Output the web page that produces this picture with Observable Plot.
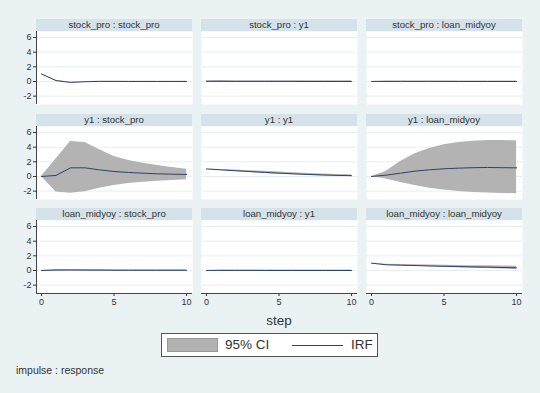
<!DOCTYPE html>
<html>
<head>
<meta charset="utf-8">
<script src="https://cdn.jsdelivr.net/npm/d3@7"></script>
<script src="https://cdn.jsdelivr.net/npm/@observablehq/plot@0.6"></script>
<style>
  html, body { margin: 0; padding: 0; background: #eaf2f3; }
  #chart { position: relative; width: 540px; height: 393px; background: #eaf2f3; overflow: hidden;
           font-family: "Liberation Sans", Arial, sans-serif; color: #333; }
  .strip { position: absolute; background: #d6e2e9; text-align: center; font-size: 9.6px; color: #333; white-space: nowrap; }
  .panel { position: absolute; }
  .lbl { position: absolute; white-space: nowrap; }
</style>
</head>
<body>
<div id="chart"></div>
<script>
// ---- data ----
const steps = [0, 1, 2, 3, 4, 5, 6, 7, 8, 9, 10];
const yTicks = [-2, 0, 2, 4, 6];
const xTicks = [0, 5, 10];
const impulses = ["stock_pro", "y1", "loan_midyoy"];
const responses = ["stock_pro", "y1", "loan_midyoy"];

// impulse stock_pro
const irf_sp_sp = [1.02, 0.12, -0.13, -0.03, 0.01, 0.01, 0.0, 0.0, 0.0, 0.0, 0.0];
const lo_sp_sp  = [0.98, 0.08, -0.17, -0.06, -0.02, -0.02, -0.02, -0.02, -0.02, -0.02, -0.02];
const hi_sp_sp  = [1.06, 0.16, -0.09, 0.0, 0.04, 0.04, 0.02, 0.02, 0.02, 0.02, 0.02];
const irf_sp_y1 = [0.02, 0.02, 0.01, 0.01, 0.01, 0.01, 0.01, 0.0, 0.0, 0.0, 0.0];
const lo_sp_y1  = [-0.07, -0.08, -0.09, -0.09, -0.09, -0.09, -0.09, -0.09, -0.09, -0.09, -0.09];
const hi_sp_y1  = [0.11, 0.12, 0.11, 0.11, 0.11, 0.11, 0.11, 0.1, 0.1, 0.1, 0.1];
const irf_sp_lm = [0.0, 0.01, 0.01, 0.01, 0.01, 0.01, 0.0, 0.0, 0.0, 0.0, 0.0];
const lo_sp_lm  = [0.0, -0.05, -0.06, -0.06, -0.06, -0.06, -0.06, -0.06, -0.06, -0.06, -0.06];
const hi_sp_lm  = [0.0, 0.07, 0.07, 0.07, 0.07, 0.07, 0.07, 0.06, 0.06, 0.06, 0.06];

// impulse y1
const irf_y1_sp = [0.0, 0.14, 1.18, 1.18, 0.9, 0.68, 0.55, 0.45, 0.36, 0.32, 0.27];
const lo_y1_sp  = [0.0, -2.12, -2.3, -2.09, -1.59, -1.23, -0.95, -0.77, -0.64, -0.55, -0.45];
const hi_y1_sp  = [0.0, 2.38, 4.77, 4.64, 3.64, 2.73, 2.18, 1.82, 1.5, 1.23, 1.0];
const irf_y1_y1 = [1.03, 0.9, 0.78, 0.67, 0.56, 0.45, 0.36, 0.28, 0.21, 0.15, 0.11];
const lo_y1_y1  = [1.03, 0.84, 0.69, 0.55, 0.42, 0.31, 0.22, 0.14, 0.08, 0.03, -0.01];
const hi_y1_y1  = [1.03, 0.96, 0.87, 0.79, 0.7, 0.6, 0.51, 0.42, 0.34, 0.27, 0.22];
const irf_y1_lm = [0.0, 0.18, 0.45, 0.73, 0.91, 1.05, 1.14, 1.2, 1.23, 1.2, 1.18];
const lo_y1_lm  = [0.0, -0.36, -0.82, -1.23, -1.59, -1.86, -2.05, -2.18, -2.27, -2.32, -2.36];
const hi_y1_lm  = [0.0, 0.68, 2.05, 3.09, 3.82, 4.32, 4.64, 4.82, 4.91, 4.91, 4.86];

// impulse loan_midyoy
const irf_lm_sp = [0.0, 0.05, 0.06, 0.05, 0.04, 0.03, 0.03, 0.02, 0.02, 0.02, 0.02];
const lo_lm_sp  = [0.0, -0.02, -0.03, -0.03, -0.04, -0.05, -0.05, -0.05, -0.05, -0.05, -0.05];
const hi_lm_sp  = [0.0, 0.12, 0.14, 0.13, 0.12, 0.11, 0.1, 0.09, 0.09, 0.09, 0.09];
const irf_lm_y1 = [0.0, 0.01, 0.01, 0.01, 0.0, 0.0, 0.0, 0.0, 0.0, 0.0, 0.0];
const lo_lm_y1  = [0.0, -0.05, -0.06, -0.06, -0.07, -0.07, -0.07, -0.07, -0.07, -0.07, -0.07];
const hi_lm_y1  = [0.0, 0.07, 0.08, 0.08, 0.07, 0.07, 0.07, 0.07, 0.07, 0.07, 0.07];
const irf_lm_lm = [1.0, 0.78, 0.72, 0.67, 0.62, 0.57, 0.53, 0.49, 0.45, 0.41, 0.37];
const lo_lm_lm  = [1.0, 0.72, 0.64, 0.57, 0.5, 0.44, 0.38, 0.32, 0.27, 0.21, 0.15];
const hi_lm_lm  = [1.0, 0.84, 0.8, 0.77, 0.74, 0.7, 0.68, 0.66, 0.63, 0.61, 0.59];

const series = [
  [[irf_sp_sp, lo_sp_sp, hi_sp_sp], [irf_sp_y1, lo_sp_y1, hi_sp_y1], [irf_sp_lm, lo_sp_lm, hi_sp_lm]],
  [[irf_y1_sp, lo_y1_sp, hi_y1_sp], [irf_y1_y1, lo_y1_y1, hi_y1_y1], [irf_y1_lm, lo_y1_lm, hi_y1_lm]],
  [[irf_lm_sp, lo_lm_sp, hi_lm_sp], [irf_lm_y1, lo_lm_y1, hi_lm_y1], [irf_lm_lm, lo_lm_lm, hi_lm_lm]]
];

const legendLabels = ["95% CI", "IRF"];
const xTitle = "step";
const note = "impulse : response";

// ---- layout ----
const colLeft = [36, 201, 366];
const stripTop = [19, 114, 208];
const panelW = 156, stripH = 12, plotH = 73;
const xDomain = [-0.345, 10.41];
const yDomain = [-3.14, 6.82];
const ciColor = "#b3b3b3";
const lineColor = "#2a4468";

const chart = document.getElementById("chart");

for (let r = 0; r < 3; r++) {
  for (let c = 0; c < 3; c++) {
    const [irf, lo, hi] = series[r][c];
    const data = steps.map((s, i) => ({step: s, irf: irf[i], lo: lo[i], hi: hi[i]}));
    const ml = c === 0 ? 30 : 0;
    const mb = r === 2 ? 22 : 0;

    const strip = document.createElement("div");
    strip.className = "strip";
    strip.style.left = colLeft[c] + "px";
    strip.style.top = stripTop[r] + "px";
    strip.style.width = panelW + "px";
    strip.style.height = stripH + "px";
    strip.style.lineHeight = stripH + "px";
    strip.textContent = impulses[r] + " : " + responses[c];
    chart.appendChild(strip);

    const marks = [
      Plot.frame({fill: "white", stroke: "none"}),
      Plot.ruleY(yTicks, {stroke: "#e6eef0", strokeWidth: 1}),
      Plot.areaY(data, {x: "step", y1: "lo", y2: "hi", fill: ciColor}),
      Plot.lineY(data, {x: "step", y: "irf", stroke: lineColor, strokeWidth: 1})
    ];
    if (c === 0) {
      marks.push(Plot.axisY({ticks: yTicks, tickSize: 3, tickPadding: 2, tickFormat: d => String(d), label: null, fontSize: 9}));
      marks.push(Plot.ruleX([xDomain[0]], {stroke: "#444", strokeWidth: 1}));
    }
    if (r === 2) {
      marks.push(Plot.axisX({ticks: xTicks, tickSize: 3, tickPadding: 2, label: null, fontSize: 9}));
      marks.push(Plot.ruleY([yDomain[0]], {stroke: "#444", strokeWidth: 1}));
    }

    const svg = Plot.plot({
      width: panelW + ml,
      height: plotH + mb,
      marginLeft: ml,
      marginRight: 0,
      marginTop: 0,
      marginBottom: mb,
      style: {background: "transparent", overflow: "visible", fontFamily: "Liberation Sans, Arial, sans-serif", fontSize: "9px", color: "#333"},
      x: {domain: xDomain, axis: r === 2 ? undefined : null},
      y: {domain: yDomain, axis: c === 0 ? undefined : null},
      marks
    });
    svg.classList.add("panel");
    svg.style.left = (colLeft[c] - ml) + "px";
    svg.style.top = (stripTop[r] + stripH) + "px";
    svg.style.position = "absolute";
    chart.appendChild(svg);
  }
}

// x title
const st = document.createElement("div");
st.className = "lbl";
st.style.left = "0px"; st.style.width = (colLeft[0] + colLeft[2] + panelW) + "px";
st.style.textAlign = "center";
st.style.top = "312px"; st.style.fontSize = "13.5px"; st.style.lineHeight = "18px";
st.textContent = xTitle;
chart.appendChild(st);

// legend
const lg = document.createElement("div");
lg.style.cssText = "position:absolute;left:161px;top:333px;width:215px;height:22px;background:white;border:1px solid #555;box-sizing:content-box;";
const sw = document.createElement("div");
sw.style.cssText = `position:absolute;left:5px;top:4px;width:49px;height:12px;background:${ciColor};border:1px solid #999;`;
lg.appendChild(sw);
const t1 = document.createElement("div");
t1.style.cssText = "position:absolute;left:63px;top:2px;font-size:13.5px;line-height:18px;white-space:nowrap;";
t1.textContent = legendLabels[0];
lg.appendChild(t1);
const ln = document.createElement("div");
ln.style.cssText = `position:absolute;left:130px;top:11px;width:51px;height:1px;background:${lineColor};`;
lg.appendChild(ln);
const t2 = document.createElement("div");
t2.style.cssText = "position:absolute;left:189px;top:2px;font-size:13.5px;line-height:18px;white-space:nowrap;";
t2.textContent = legendLabels[1];
lg.appendChild(t2);
chart.appendChild(lg);

// note
const nt = document.createElement("div");
nt.className = "lbl";
nt.style.left = "16px"; nt.style.top = "363px"; nt.style.fontSize = "10.5px"; nt.style.lineHeight = "14px";
nt.textContent = note;
chart.appendChild(nt);
</script>
</body>
</html>
